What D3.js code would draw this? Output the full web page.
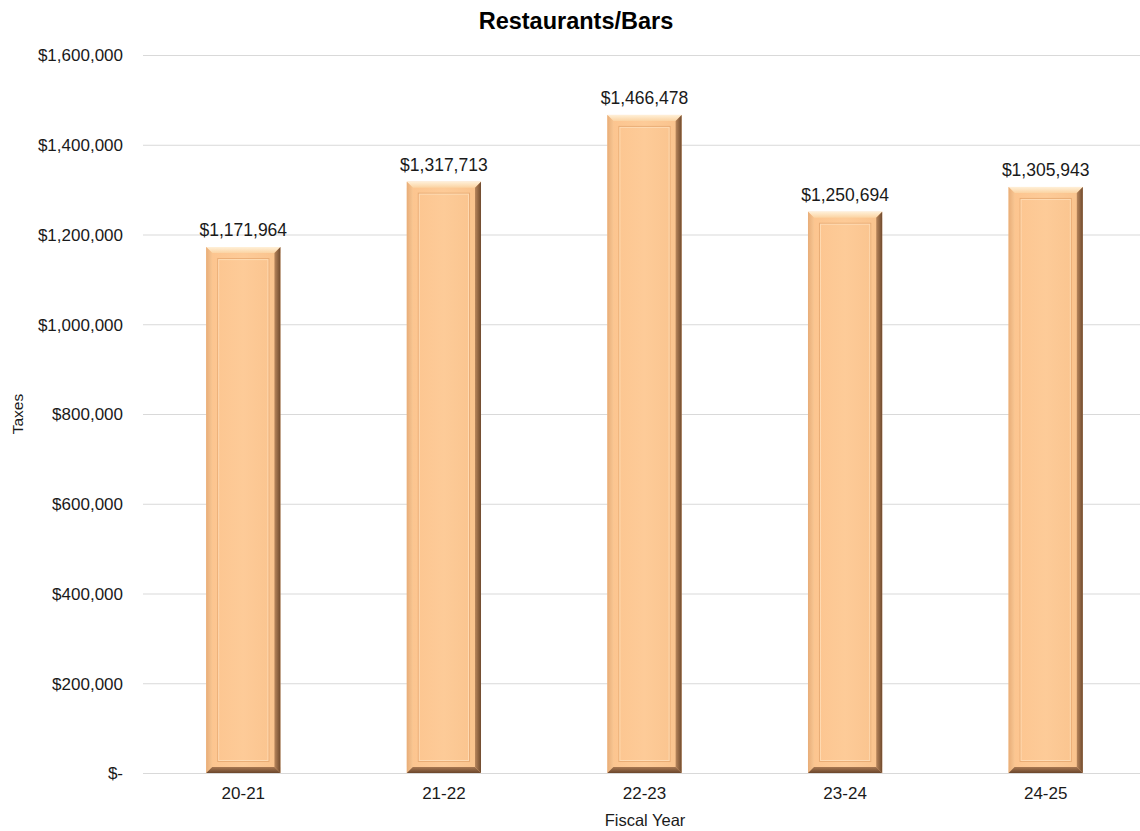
<!DOCTYPE html>
<html>
<head>
<meta charset="utf-8">
<script src="https://cdn.jsdelivr.net/npm/d3@7/dist/d3.min.js"></script>
<style>
  html, body { margin: 0; padding: 0; background: #fff; }
  svg { display: block; font-family: "Liberation Sans", Arial, sans-serif; }
</style>
</head>
<body>
<svg id="chart" width="1140" height="831"></svg>
<script>
// Restaurants/Bars tax receipts by fiscal year
const years = ["20-21", "21-22", "22-23", "23-24", "24-25"];
const taxes = [1171964, 1317713, 1466478, 1250694, 1305943];
const yTicks = [0, 200000, 400000, 600000, 800000, 1000000, 1200000, 1400000, 1600000];

const svg = d3.select("#chart");
const W = 1140, H = 831;
const m = { left: 143, right: -6, top: 55, bottom: 58 };

const x = d3.scaleBand().domain(years).range([m.left, W - m.right]).paddingInner(0.63).paddingOuter(0.315);
const y = d3.scaleLinear().domain([0, 1600000]).range([H - m.bottom, m.top]);

const money = v => v === 0 ? "$-" : "$" + d3.format(",")(v);

// gradients for the bevelled bar faces
const defs = svg.append("defs");
function grad(id, x2, y2, stops) {
  const g = defs.append("linearGradient").attr("id", id)
    .attr("x1", 0).attr("y1", 0).attr("x2", x2).attr("y2", y2);
  stops.forEach(([o, c]) => g.append("stop").attr("offset", o).attr("stop-color", c));
}
grad("gTop", 0, 1, [[0, "#fff0d8"], [1, "#fbd3a2"]]);
grad("gLeft", 1, 0, [[0, "#e8ad78"], [1, "#f8c692"]]);
grad("gRight", 1, 0, [[0, "#b8865c"], [1, "#6f4a2e"]]);
grad("gBottom", 0, 1, [[0, "#a87852"], [1, "#6a452b"]]);
grad("gFace", 1, 0, [[0, "#fcc48e"], [0.5, "#fdcb98"], [1, "#f9c28c"]]);

// y axis with gridlines
const yAxis = svg.append("g").attr("transform", `translate(${m.left},0)`)
  .call(d3.axisLeft(y).tickValues(yTicks).tickFormat(money).tickSize(-(W - m.right - m.left)).tickPadding(0));
yAxis.select(".domain").remove();
yAxis.selectAll(".tick line").attr("stroke", "#d9d9d9").attr("stroke-width", 1);
yAxis.selectAll(".tick text")
  .attr("x", -20).attr("dy", "0.34em")
  .attr("fill", "#1a1a1a").style("font-size", "17px").style("font-family", "Liberation Sans, Arial, sans-serif");

// x axis
const xAxis = svg.append("g").attr("transform", `translate(0,${y(0)})`)
  .call(d3.axisBottom(x).tickSize(0).tickPadding(14));
xAxis.select(".domain").attr("stroke", "#d9d9d9");
xAxis.selectAll(".tick text").attr("fill", "#1a1a1a")
  .style("font-size", "17px").style("font-family", "Liberation Sans, Arial, sans-serif");

// bevelled bars
const b = 6;
const bars = svg.append("g").selectAll("g").data(years.map((yr, i) => ({ yr, v: taxes[i] }))).join("g");
bars.each(function (d) {
  const g = d3.select(this);
  const x0 = x(d.yr), x1 = x0 + x.bandwidth();
  const y0 = y(d.v), y1 = y(0);
  const pts = a => a.map(p => p.join(",")).join(" ");
  g.append("rect").attr("x", x0).attr("y", y0).attr("width", x1 - x0).attr("height", y1 - y0).attr("fill", "url(#gFace)");
  g.append("polygon").attr("points", pts([[x0, y0], [x1, y0], [x1 - b, y0 + b], [x0 + b, y0 + b]])).attr("fill", "url(#gTop)");
  g.append("polygon").attr("points", pts([[x0, y0], [x0 + b, y0 + b], [x0 + b, y1 - b], [x0, y1]])).attr("fill", "url(#gLeft)");
  g.append("polygon").attr("points", pts([[x1, y0], [x1, y1], [x1 - b, y1 - b], [x1 - b, y0 + b]])).attr("fill", "url(#gRight)");
  g.append("polygon").attr("points", pts([[x0, y1], [x0 + b, y1 - b], [x1 - b, y1 - b], [x1, y1]])).attr("fill", "url(#gBottom)");
  // inner panel line
  const ins = 11;
  g.append("rect").attr("x", x0 + ins + 0.5).attr("y", y0 + ins + 0.5)
    .attr("width", x1 - x0 - 2 * ins - 1).attr("height", y1 - y0 - 2 * ins - 1)
    .attr("fill", "none").attr("stroke", "#e3a46c").attr("stroke-opacity", 0.75).attr("stroke-width", 1);
  g.append("rect").attr("x", x0 + ins + 1.5).attr("y", y0 + ins + 1.5)
    .attr("width", x1 - x0 - 2 * ins - 3).attr("height", y1 - y0 - 2 * ins - 3)
    .attr("fill", "none").attr("stroke", "#ffe2c0").attr("stroke-opacity", 0.7).attr("stroke-width", 1);
});

// value labels
svg.append("g").selectAll("text").data(years.map((yr, i) => ({ yr, v: taxes[i] }))).join("text")
  .attr("x", d => x(d.yr) + x.bandwidth() / 2)
  .attr("y", d => y(d.v) - 11)
  .attr("text-anchor", "middle")
  .style("font-size", "17.5px")
  .attr("fill", "#1a1a1a")
  .text(d => money(d.v));

// title and axis titles
svg.append("text").attr("x", 576).attr("y", 29).attr("text-anchor", "middle")
  .style("font-size", "23.5px").style("font-weight", "bold").attr("fill", "#000").text("Restaurants/Bars");
svg.append("text").attr("x", 645).attr("y", 826).attr("text-anchor", "middle")
  .style("font-size", "16.5px").attr("fill", "#1a1a1a").text("Fiscal Year");
svg.append("text").attr("transform", "translate(23,414) rotate(-90)").attr("text-anchor", "middle")
  .style("font-size", "15.5px").attr("fill", "#1a1a1a").text("Taxes");
</script>
</body>
</html>
